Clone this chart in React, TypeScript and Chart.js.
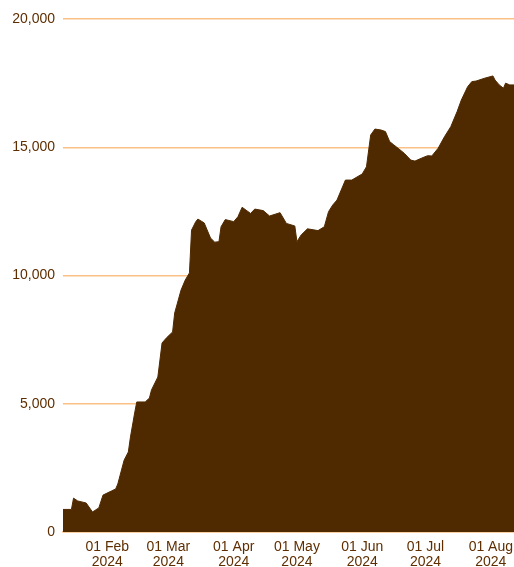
import React, { useEffect, useRef } from "react";
import { Chart, registerables } from "chart.js";

Chart.register(...registerables);

const dates = [
  "2024-01-11", "2024-01-15", "2024-01-16", "2024-01-18", "2024-01-22", "2024-01-25",
  "2024-01-28", "2024-01-30", "2024-02-03", "2024-02-05", "2024-02-06", "2024-02-09",
  "2024-02-11", "2024-02-12", "2024-02-14", "2024-02-15", "2024-02-19", "2024-02-21",
  "2024-02-22", "2024-02-25", "2024-02-27", "2024-02-29", "2024-03-03", "2024-03-04",
  "2024-03-07", "2024-03-09", "2024-03-11", "2024-03-12", "2024-03-14", "2024-03-15",
  "2024-03-18", "2024-03-21", "2024-03-23", "2024-03-25", "2024-03-26", "2024-03-28",
  "2024-04-01", "2024-04-03", "2024-04-05", "2024-04-09", "2024-04-11", "2024-04-15",
  "2024-04-18", "2024-04-23", "2024-04-26", "2024-04-30", "2024-05-01", "2024-05-03",
  "2024-05-06", "2024-05-11", "2024-05-14", "2024-05-16", "2024-05-18", "2024-05-20",
  "2024-05-24", "2024-05-27", "2024-06-01", "2024-06-03", "2024-06-05", "2024-06-07",
  "2024-06-10", "2024-06-12", "2024-06-14", "2024-06-16", "2024-06-18", "2024-06-21",
  "2024-06-24", "2024-06-26", "2024-06-29", "2024-07-02", "2024-07-04", "2024-07-07",
  "2024-07-10", "2024-07-13", "2024-07-16", "2024-07-18", "2024-07-21", "2024-07-23",
  "2024-07-25", "2024-07-29", "2024-08-02", "2024-08-03", "2024-08-05", "2024-08-07",
  "2024-08-08", "2024-08-10", "2024-08-12",
];

const values = [
  880, 880, 1320, 1210, 1130, 780,
  940, 1440, 1600, 1680, 1870, 2800,
  3120, 3700, 4640, 5070, 5070, 5220,
  5540, 6040, 7370, 7560, 7800, 8540,
  9430, 9820, 10100, 11770, 12100, 12200,
  12050, 11460, 11300, 11320, 11900, 12180,
  12100, 12290, 12660, 12420, 12590, 12530,
  12320, 12450, 12030, 11930, 11320, 11580,
  11820, 11750, 11900, 12490, 12750, 12940,
  13720, 13720, 13960, 14240, 15480, 15710,
  15670, 15610, 15220, 15090, 14960, 14760,
  14500, 14460, 14570, 14670, 14660, 14960,
  15410, 15800, 16390, 16840, 17360, 17560,
  17580, 17690, 17780, 17620, 17430, 17300,
  17500, 17430, 17430,
];

const tickDates = ["2024-02-01", "2024-03-01", "2024-04-01", "2024-05-01", "2024-06-01", "2024-07-01", "2024-08-01"];
const tickLabels = ["01 Feb", "01 Mar", "01 Apr", "01 May", "01 Jun", "01 Jul", "01 Aug"];
const yTicks = [0, 5000, 10000, 15000, 20000];

const DAY = 86400000;
const base = Date.UTC(2024, 0, 1);
function dayIndex(s: string): number {
  const [y, m, d] = s.split("-").map(Number);
  return (Date.UTC(y, m - 1, d) - base) / DAY;
}

export default function App() {
  const ref = useRef<HTMLCanvasElement | null>(null);
  useEffect(() => {
    if (!ref.current) return;
    const pts = dates.map((d, i) => ({ x: dayIndex(d), y: values[i] }));
    const tickPos = tickDates.map(dayIndex);
    const textColor = "#5e2e00";
    const gridColor = "#fcbf86";
    const font = { family: "'Liberation Sans', Arial, sans-serif", size: 14, lineHeight: 1.05 };
    const chart = new Chart(ref.current, {
      type: "line",
      data: {
        datasets: [
          {
            data: pts,
            fill: "origin",
            backgroundColor: "#4f2900",
            borderColor: "#4f2900",
            borderWidth: 1,
            pointRadius: 0,
            tension: 0,
          },
        ],
      },
      options: {
        animation: false,
        responsive: false,
        maintainAspectRatio: false,
        layout: { padding: { top: 19, right: 0, left: 0, bottom: 0 } },
        plugins: { legend: { display: false }, tooltip: { enabled: false } },
        scales: {
          x: {
            type: "linear",
            min: dayIndex(dates[0]),
            max: dayIndex(dates[dates.length - 1]),
            grid: { display: false, drawTicks: false },
            border: { display: true, color: gridColor, width: 1.5 },
            afterBuildTicks: (scale: any) => {
              scale.ticks = tickPos.map((v) => ({ value: v }));
            },
            afterFit: (scale: any) => {
              scale.height = 35;
              scale.paddingLeft = 0;
              scale.paddingRight = 0;
            },
            ticks: {
              autoSkip: false,
              maxRotation: 0,
              padding: 7,
              color: textColor,
              font: { ...font, lineHeight: 1.1 },
              callback: (v: any) => {
                const i = tickPos.indexOf(Number(v));
                return i >= 0 ? [tickLabels[i], "2024"] : "";
              },
            },
          },
          y: {
            min: yTicks[0],
            max: yTicks[yTicks.length - 1],
            afterBuildTicks: (scale: any) => {
              scale.ticks = yTicks.map((v) => ({ value: v }));
            },
            afterFit: (scale: any) => {
              scale.width = 63;
            },
            grid: { color: gridColor, drawTicks: false, lineWidth: 1.5 },
            border: { display: false },
            ticks: {
              padding: 8,
              color: textColor,
              font,
              callback: (v: any) => Number(v).toLocaleString("en-US"),
            },
          },
        },
      },
    } as any);
    return () => chart.destroy();
  }, []);
  return (
    <div style={{ position: "absolute", left: 0, top: 0, width: 514, height: 567 }}>
      <canvas ref={ref} width={514} height={567} style={{ display: "block", width: 514, height: 567 }} />
    </div>
  );
}
